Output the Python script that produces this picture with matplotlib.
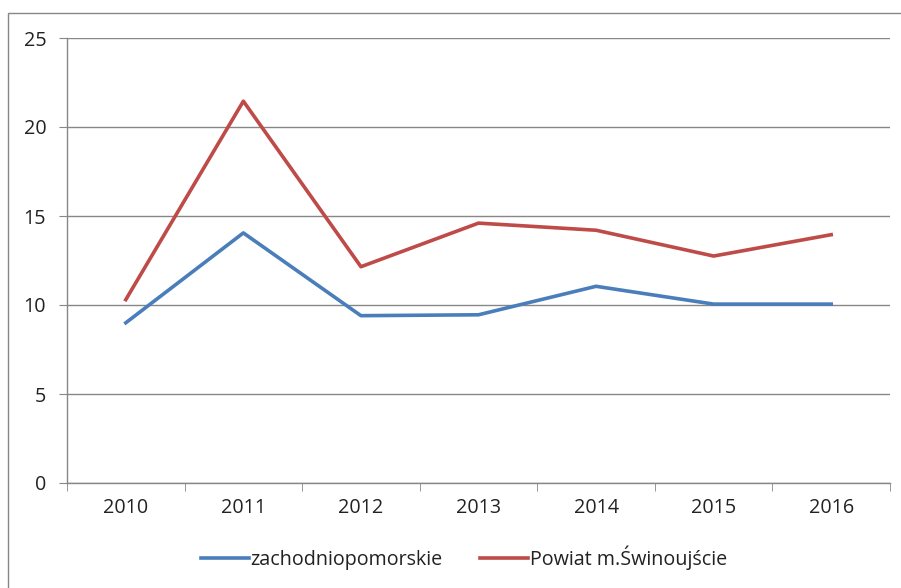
import matplotlib
matplotlib.use('Agg')
import matplotlib.pyplot as plt
from matplotlib.patches import Rectangle

years = ['2010', '2011', '2012', '2013', '2014', '2015', '2016']
zachodniopomorskie = [9.0, 14.05, 9.4, 9.45, 11.05, 10.05, 10.05]
swinoujscie = [10.3, 21.45, 12.15, 14.6, 14.2, 12.75, 13.95]

plt.rcParams['font.family'] = ['Open Sans', 'DejaVu Sans']
grid_col = '#878787'
fs = 14.2

fig = plt.figure(figsize=(9.01, 5.88), dpi=100)
ax = fig.add_axes([67 / 901, 1 - 483 / 588, (890 - 67) / 901, (483 - 38) / 588])

x = list(range(len(years)))
ax.plot(x, zachodniopomorskie, color='#4A7EBB', lw=2.6, label='zachodniopomorskie')
ax.plot(x, swinoujscie, color='#BE4B48', lw=2.6, label='Powiat m.Świnoujście')

ax.set_xlim(-0.5, len(years) - 0.5)
ax.set_ylim(0, 25)
ax.set_yticks([0, 5, 10, 15, 20, 25])
ax.yaxis.grid(True, color=grid_col, lw=1.0)
ax.set_axisbelow(True)

ax.set_xticks(x)
ax.set_xticklabels(years)
ax.set_xticks([i - 0.5 for i in range(len(years) + 1)], minor=True)
ax.tick_params(axis='x', which='major', length=0, pad=11, labelsize=fs, labelcolor='#222222')
ax.tick_params(axis='x', which='minor', length=6, color=grid_col, direction='out')
ax.tick_params(axis='y', length=6, color=grid_col, pad=9, labelsize=fs, labelcolor='#222222')

for side in ['top', 'right']:
    ax.spines[side].set_visible(False)
for side in ['left', 'bottom']:
    ax.spines[side].set_color(grid_col)
    ax.spines[side].set_linewidth(1.0)

fig.legend(loc='lower center', bbox_to_anchor=(0.515, 0.0), ncol=2, frameon=False,
           fontsize=fs, handlelength=2.4, handletextpad=0.1, columnspacing=1.9,
           labelcolor='#222222')

# outer chart frame
fig.add_artist(Rectangle((8 / 901, -0.1), 1.2, 1 - 13 / 588 + 0.1, transform=fig.transFigure,
                         fill=False, edgecolor=grid_col, lw=1.0))

fig.savefig('out.png', dpi=100)
